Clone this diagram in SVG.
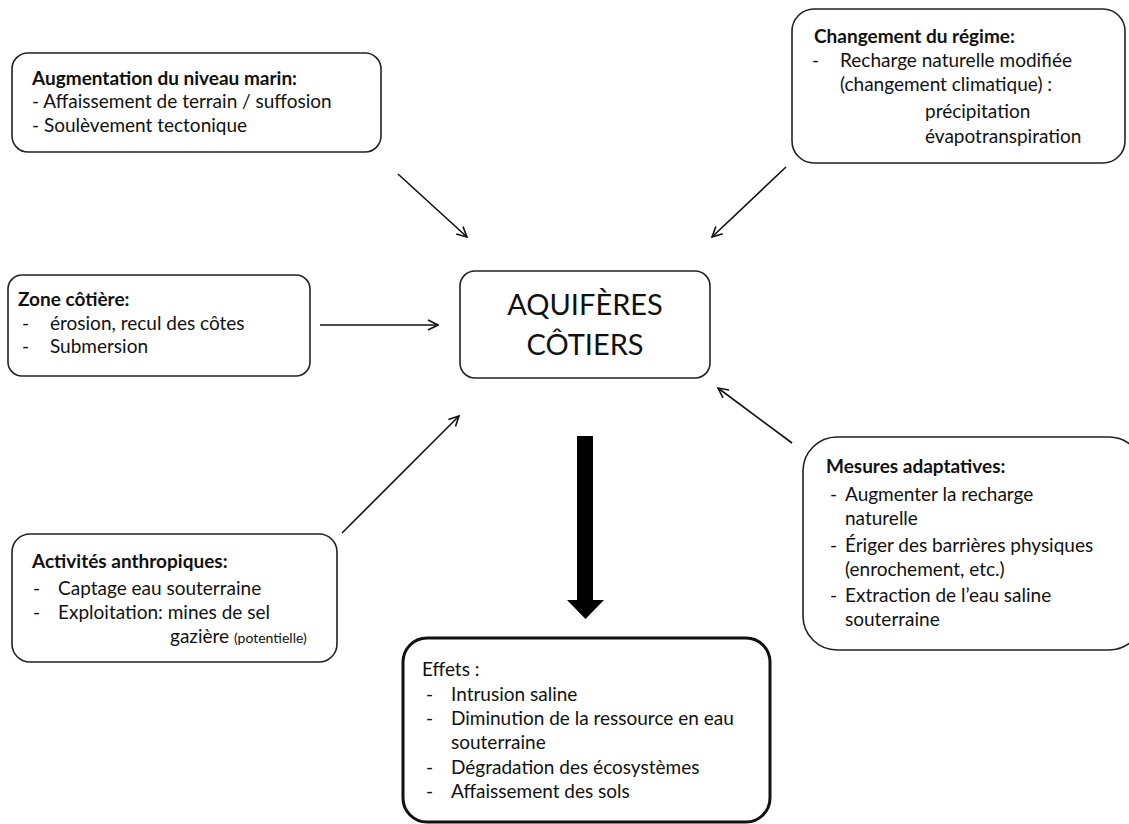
<svg xmlns="http://www.w3.org/2000/svg" width="1129" height="824" viewBox="0 0 1129 824">
<defs>
<style>
.box{fill:#fff;stroke:#222;stroke-width:1.6}
.thick{fill:#fff;stroke:#111;stroke-width:3}
.t{font-family:Lato,"Open Sans","Liberation Sans",sans-serif;font-size:19px;fill:#111}
.b{font-weight:bold}
.big{font-family:Lato,"Open Sans","Liberation Sans",sans-serif;font-size:29px;fill:#111;text-anchor:middle}
.sm{font-size:14px}
.con{stroke:#111;stroke-width:1.6;fill:none;marker-end:url(#arr)}
</style>
<marker id="arr" viewBox="0 0 12 12" refX="11" refY="6" markerWidth="12" markerHeight="12" markerUnits="userSpaceOnUse" orient="auto">
<path d="M1,1 L11,6 L1,11" fill="none" stroke="#111" stroke-width="1.6"/>
</marker>
</defs>
<rect width="1129" height="824" fill="#fff"/>

<g id="connectors">
<line class="con" x1="398" y1="174" x2="467" y2="237"/>
<line class="con" x1="786" y1="167" x2="712" y2="237"/>
<line class="con" x1="320" y1="325" x2="438" y2="325"/>
<line class="con" x1="342" y1="533" x2="459" y2="416"/>
<line class="con" x1="792" y1="443" x2="718" y2="388"/>
<path d="M577,436 H593 V600 H604 L585.5,619 L567,600 H577 Z" fill="#000"/>
</g>

<g id="augmentation">
<rect class="box" x="12" y="53" width="369" height="99" rx="16"/>
<text class="t b" x="32" y="85">Augmentation du niveau marin:</text>
<text class="t" x="32" y="108">- Affaissement de terrain / suffosion</text>
<text class="t" x="32" y="132">- Soulèvement tectonique</text>
</g>

<g id="changement">
<rect class="box" x="792" y="9" width="333" height="154" rx="22"/>
<text class="t b" x="814" y="43">Changement du régime:</text>
<text class="t" x="812" y="67">-</text>
<text class="t" x="840" y="67">Recharge naturelle modifiée</text>
<text class="t" x="840" y="91">(changement climatique) :</text>
<text class="t" x="925" y="118">précipitation</text>
<text class="t" x="925" y="143">évapotranspiration</text>
</g>

<g id="zone">
<rect class="box" x="8" y="275" width="302" height="101" rx="14"/>
<text class="t b" x="18" y="306">Zone côtière:</text>
<text class="t" x="22" y="330">-</text>
<text class="t" x="50" y="330">érosion, recul des côtes</text>
<text class="t" x="22" y="353">-</text>
<text class="t" x="50" y="353">Submersion</text>
</g>

<g id="aquiferes">
<rect class="box" x="460" y="271" width="250" height="107" rx="15"/>
<text class="big" x="585" y="315">AQUIFÈRES</text>
<text class="big" x="585" y="355">CÔTIERS</text>
</g>

<g id="activites">
<rect class="box" x="12" y="534" width="325" height="128" rx="18"/>
<text class="t b" x="32" y="568">Activités anthropiques:</text>
<text class="t" x="33" y="595">-</text>
<text class="t" x="58" y="595">Captage eau souterraine</text>
<text class="t" x="33" y="619">-</text>
<text class="t" x="58" y="619">Exploitation: mines de sel</text>
<text class="t" x="170" y="643">gazière <tspan class="sm">(potentielle)</tspan></text>
</g>

<g id="mesures">
<rect class="box" x="803" y="437" width="340" height="213" rx="34"/>
<text class="t b" x="826" y="473">Mesures adaptatives:</text>
<text class="t" x="830" y="501">-</text>
<text class="t" x="845" y="501">Augmenter la recharge</text>
<text class="t" x="845" y="525">naturelle</text>
<text class="t" x="830" y="552">-</text>
<text class="t" x="845" y="552">Ériger des barrières physiques</text>
<text class="t" x="845" y="576">(enrochement, etc.)</text>
<text class="t" x="830" y="602">-</text>
<text class="t" x="845" y="602">Extraction de l’eau saline</text>
<text class="t" x="845" y="626">souterraine</text>
</g>

<g id="effets">
<rect class="thick" x="403" y="638" width="367" height="184" rx="24"/>
<text class="t" x="422" y="676">Effets :</text>
<text class="t" x="426" y="701">-</text>
<text class="t" x="451" y="701">Intrusion saline</text>
<text class="t" x="426" y="725">-</text>
<text class="t" x="451" y="725">Diminution de la ressource en eau</text>
<text class="t" x="451" y="749">souterraine</text>
<text class="t" x="426" y="774">-</text>
<text class="t" x="451" y="774">Dégradation des écosystèmes</text>
<text class="t" x="426" y="798">-</text>
<text class="t" x="451" y="798">Affaissement des sols</text>
</g>
</svg>
